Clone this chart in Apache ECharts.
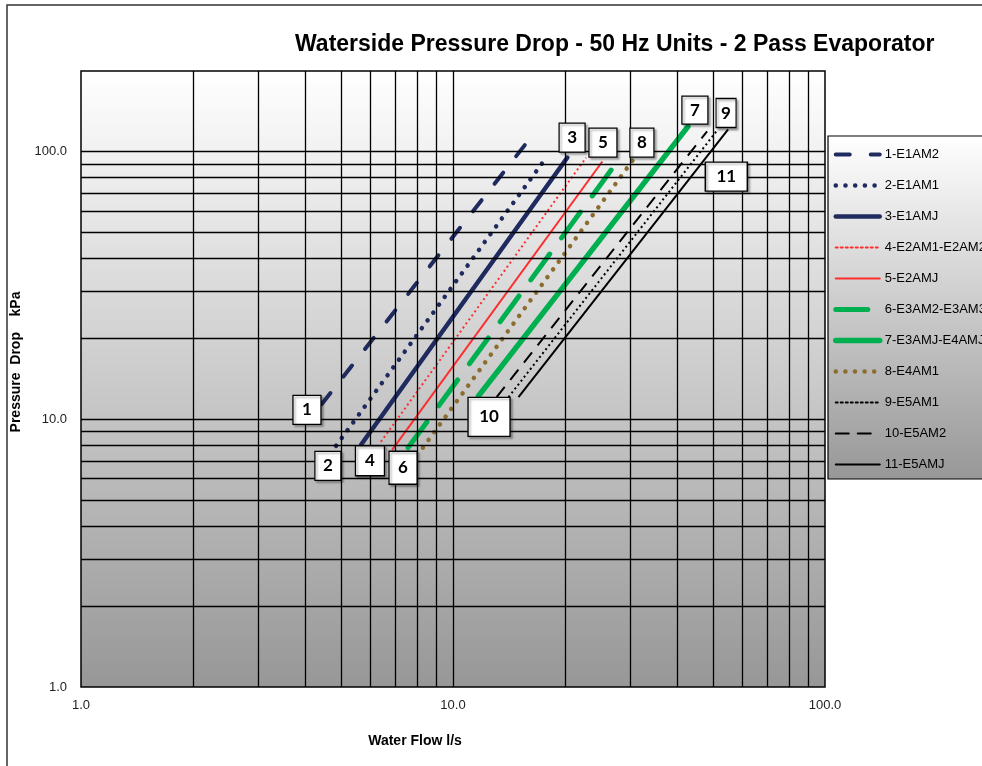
<!DOCTYPE html>
<html>
<head>
<meta charset="utf-8">
<script src="https://cdn.jsdelivr.net/npm/echarts@6/dist/echarts.min.js"></script>
<style>
  html, body { margin: 0; padding: 0; background: #fff; }
  #chart { width: 982px; height: 766px; }
</style>
</head>
<body>
<div id="chart"></div>
<script>
// series names, in legend order
const seriesNames = [
	"1-E1AM2", "2-E1AM1", "3-E1AMJ", "4-E2AM1-E2AM2", "5-E2AMJ",
	"6-E3AM2-E3AM3", "7-E3AMJ-E4AMJ", "8-E4AM1", "9-E5AM1", "10-E5AM2", "11-E5AMJ"
];

// end points of each curve (l/s, kPa)
const flowStart = [4.44, 4.85, 5.66, 6.40, 6.86, 7.57, 11.7, 8.30, 14.1, 13.1, 15.0];
const flowEnd   = [15.7, 17.5, 20.3, 22.8, 25.2, 27.9, 42.8, 30.5, 51.3, 48.2, 54.9];
const dropStart = [11.4, 7.96, 8.03, 8.24, 7.69, 7.83, 12.2, 7.83, 12.1, 12.1, 12.1];
const dropEnd   = [107, 91.8, 95.0, 95.0, 91.8, 93.3, 124, 93.3, 120, 119, 121];

// numbered call-out boxes
const calloutText = ["1", "2", "3", "4", "5", "6", "7", "8", "9", "10", "11"];
const calloutFlow = [4.05, 4.61, 20.9, 5.98, 25.3, 7.34, 44.7, 32.2, 54.2, 12.5, 54.3];
const calloutDrop = [10.85, 6.70, 112.8, 7.0, 108, 6.59, 142.9, 108, 139.3, 10.22, 80.6];

// grid lines
const flowGrid = [2, 3, 4, 5, 6, 7, 8, 9, 10, 20, 30, 40, 50, 60, 70, 80, 90];
const dropGrid = [2, 3, 4, 5, 6, 7, 8, 9, 10, 20, 30, 40, 50, 60, 70, 80, 90, 100];

const navy = "#1f2b5f";
const red = "#ff2e2e";
const green = "#00b050";
const brown = "#8c6d30";

const lineStyles = [
	{ color: navy, width: 4, type: [14, 21], cap: "round" },
	{ color: navy, width: 4.5, type: [0.1, 9.6], cap: "round" },
	{ color: navy, width: 4.5, type: "solid", cap: "round" },
	{ color: red, width: 2, type: [2, 3] },
	{ color: red, width: 2, type: "solid" },
	{ color: green, width: 5, type: [32, 20], cap: "round" },
	{ color: green, width: 5.5, type: "solid", cap: "round" },
	{ color: brown, width: 4.5, type: [0.1, 9.5], cap: "round" },
	{ color: "#000", width: 2, type: [2, 3] },
	{ color: "#000", width: 2, type: [13, 9] },
	{ color: "#000", width: 2, type: "solid" }
];

const calloutSize = [
	[28, 29], [26, 29], [26, 29], [29, 30], [28, 29], [28, 33],
	[26, 28], [24, 29], [20, 29], [42, 39], [42, 29]
];

const chartDom = document.getElementById("chart");
const chart = echarts.init(chartDom);

const fade = () => new echarts.graphic.LinearGradient(0, 0, 0, 1, [
	{ offset: 0, color: "#ffffff" },
	{ offset: 1, color: "#979797" }
]);

const curveSeries = seriesNames.map((name, i) => ({
	name,
	type: "line",
	symbol: "none",
	z: 3,
	lineStyle: lineStyles[i],
	itemStyle: { color: lineStyles[i].color },
	data: [[flowStart[i], dropStart[i]], [flowEnd[i], dropEnd[i]]]
}));

const axisLabelFmt = v => ([1, 10, 100].includes(Math.round(v * 1000) / 1000) ? v.toFixed(1) : "");

const option = {
	animation: false,
	title: {
		text: "Waterside Pressure Drop - 50 Hz Units - 2 Pass Evaporator",
		left: 290,
		top: 28,
		textStyle: {
			fontFamily: "Liberation Sans",
			fontWeight: "bold",
			fontSize: 23,
			color: "#000"
		}
	},
	grid: {
		left: 81,
		top: 71,
		right: 157,
		bottom: 79,
		show: true,
		backgroundColor: fade(),
		borderColor: "#000",
		borderWidth: 1.5
	},
	legend: {
		orient: "vertical",
		left: 828,
		top: 136,
		padding: [12, 6, 8, 5],
		itemWidth: 44,
		itemHeight: 14,
		itemGap: 18,
		backgroundColor: fade(),
		borderColor: "#000",
		borderWidth: 1.2,
		itemStyle: { opacity: 0 },
		lineStyle: { width: "inherit", cap: "round" },
		data: seriesNames,
		textStyle: {
			fontFamily: "Liberation Sans",
			fontSize: 13,
			color: "#000"
		}
	},
	xAxis: {
		type: "log",
		logBase: 10,
		min: 1,
		max: 100,
		name: "Water Flow l/s",
		nameLocation: "middle",
		nameGap: 47,
		nameTextStyle: {
			fontFamily: "Liberation Sans",
			fontWeight: "bold",
			fontSize: 14,
			color: "#000",
			padding: [0, 76, 0, 0]
		},
		axisLine: { show: false },
		axisTick: { show: false },
		splitLine: { show: false },
		axisLabel: {
			margin: 12,
			fontFamily: "Liberation Sans",
			fontSize: 13,
			color: "#222",
			formatter: axisLabelFmt
		}
	},
	yAxis: {
		type: "log",
		logBase: 10,
		min: 1,
		max: 200,
		name: "Pressure  Drop    kPa",
		nameLocation: "middle",
		nameGap: 48,
		nameTextStyle: {
			fontFamily: "Liberation Sans",
			fontWeight: "bold",
			fontSize: 14,
			color: "#000",
			padding: [0, 0, 0, 34]
		},
		axisLine: { show: false },
		axisTick: { show: false },
		splitLine: { show: false },
		axisLabel: {
			margin: 14,
			fontFamily: "Liberation Sans",
			fontSize: 13,
			color: "#222",
			formatter: axisLabelFmt
		}
	},
	graphic: [
		{
			type: "rect",
			silent: true,
			shape: { x: 7, y: 5, width: 1000, height: 800 },
			style: { fill: "none", stroke: "#333", lineWidth: 1.5 }
		}
	],
	series: [
		{
			name: "grid",
			type: "line",
			symbol: "none",
			silent: true,
			z: 1,
			data: [],
			markLine: {
				silent: true,
				symbol: "none",
				label: { show: false },
				lineStyle: { color: "#000", width: 1.3, type: "solid" },
				data: [
					...flowGrid.map(v => ({ xAxis: v })),
					...dropGrid.map(v => ({ yAxis: v }))
				]
			}
		},
		...curveSeries,
		{
			name: "callouts",
			type: "scatter",
			symbol: "rect",
			z: 5,
			itemStyle: {
				color: "#fff",
				opacity: 1,
				borderColor: "#000",
				borderWidth: 1.3,
				shadowColor: "rgba(0,0,0,0.3)",
				shadowOffsetX: 2,
				shadowOffsetY: 2,
				shadowBlur: 2
			},
			label: {
				show: true,
				position: "inside",
				fontFamily: "Lato",
				fontWeight: "bold",
				fontSize: 17,
				color: "#000"
			},
			data: calloutText.map((t, i) => ({
				value: [calloutFlow[i], calloutDrop[i]],
				symbolSize: calloutSize[i],
				label: { formatter: t }
			}))
		}
	]
};

option && chart.setOption(option);
</script>
</body>
</html>
